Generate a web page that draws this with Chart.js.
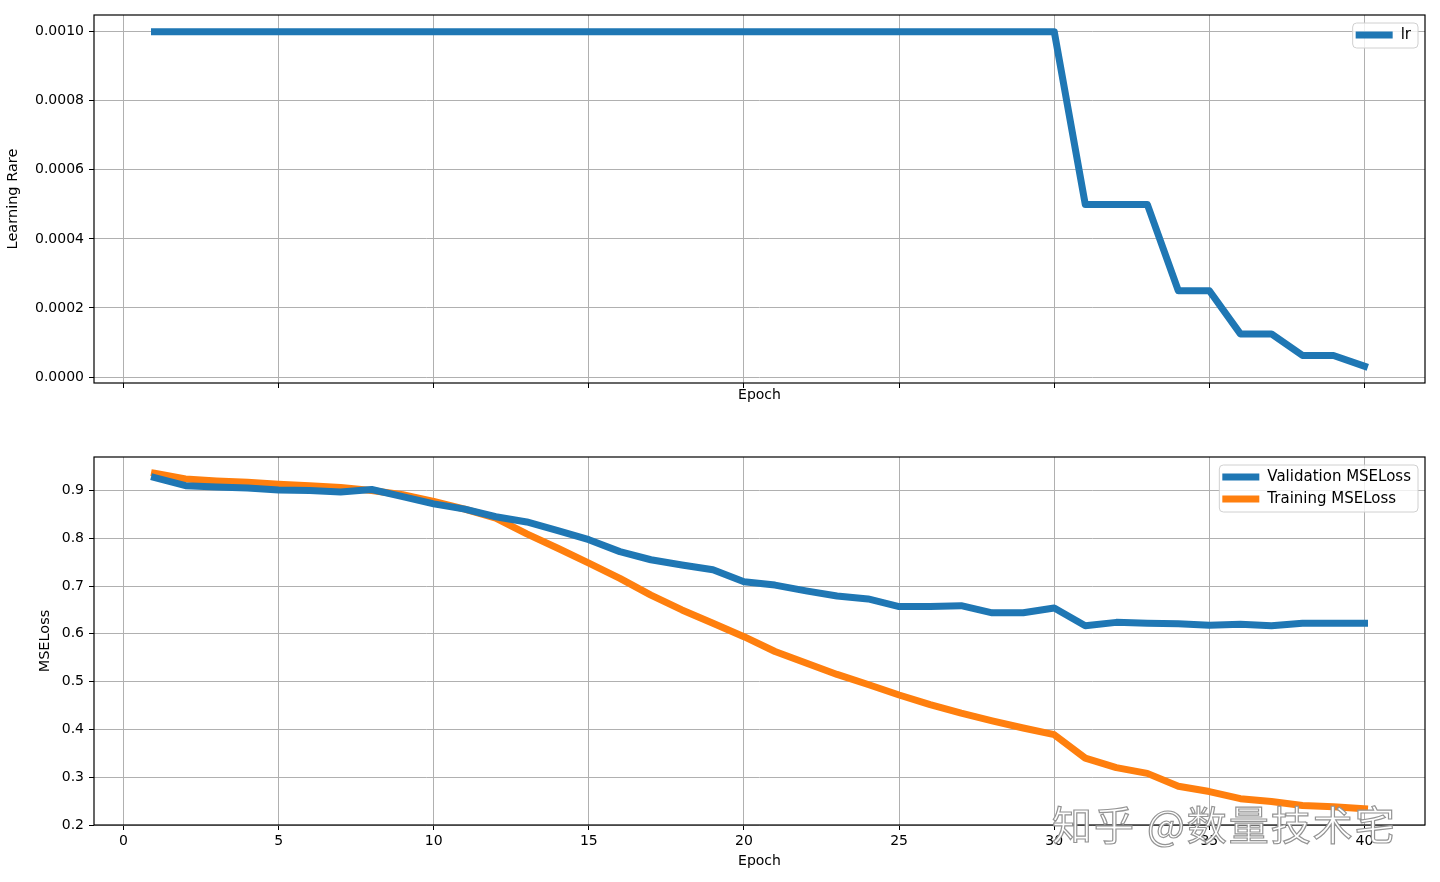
<!DOCTYPE html>
<html>
<head>
<meta charset="utf-8">
<title>Learning rate and MSELoss</title>
<script src="https://cdn.jsdelivr.net/npm/chart.js@4.4.1/dist/chart.umd.min.js"></script>
<style>
    html, body { margin: 0; padding: 0; background: #fff; }
    #wrap { position: relative; width: 1440px; height: 882px; overflow: hidden; }
    .box { position: absolute; left: 0; width: 1440px; }
    #lrBox { top: 0; height: 408px; }
    #lossBox { top: 430px; height: 452px; }
    #mark {
        position: absolute; left: 1052px; top: 794px;
        font-family: "Noto Sans CJK SC", sans-serif; font-size: 40px;
        color: #fff; -webkit-text-stroke: 1.2px #949494; letter-spacing: 2px;
        pointer-events: none;
    }
</style>
</head>
<body>
<div id="wrap">
    <div class="box" id="lrBox"><canvas id="lrChart"></canvas></div>
    <div class="box" id="lossBox"><canvas id="lossChart"></canvas></div>
    <div id="mark">知乎 @数量技术宅</div>
</div>
<script>
// Data
const epochs = [1, 2, 3, 4, 5, 6, 7, 8, 9, 10, 11, 12, 13, 14, 15, 16, 17, 18, 19, 20,
                21, 22, 23, 24, 25, 26, 27, 28, 29, 30, 31, 32, 33, 34, 35, 36, 37, 38, 39, 40];

const lrValues = [0.001, 0.001, 0.001, 0.001, 0.001, 0.001, 0.001, 0.001, 0.001, 0.001,
                  0.001, 0.001, 0.001, 0.001, 0.001, 0.001, 0.001, 0.001, 0.001, 0.001,
                  0.001, 0.001, 0.001, 0.001, 0.001, 0.001, 0.001, 0.001, 0.001, 0.001,
                  0.0005, 0.0005, 0.0005, 0.00025, 0.00025, 0.000125, 0.000125, 0.0000625, 0.0000625, 0.00003125];

const valLoss = [0.927, 0.910, 0.907, 0.905, 0.901, 0.900, 0.897, 0.902, 0.887, 0.872,
                 0.861, 0.845, 0.834, 0.816, 0.797, 0.772, 0.755, 0.744, 0.734, 0.709,
                 0.702, 0.690, 0.679, 0.673, 0.657, 0.657, 0.659, 0.644, 0.644, 0.654,
                 0.617, 0.624, 0.622, 0.621, 0.618, 0.620, 0.617, 0.622, 0.622, 0.622];

const trainLoss = [0.936, 0.924, 0.920, 0.917, 0.913, 0.910, 0.906, 0.900, 0.891, 0.877,
                   0.861, 0.842, 0.809, 0.779, 0.748, 0.716, 0.681, 0.650, 0.622, 0.594,
                   0.563, 0.539, 0.515, 0.494, 0.472, 0.452, 0.434, 0.418, 0.403, 0.389,
                   0.340, 0.320, 0.308, 0.281, 0.270, 0.255, 0.249, 0.241, 0.238, 0.234];

const xTicks = [0, 5, 10, 15, 20, 25, 30, 35, 40];
const lrTicks = [0, 0.0002, 0.0004, 0.0006, 0.0008, 0.0010];
const lossTicks = [0.2, 0.3, 0.4, 0.5, 0.6, 0.7, 0.8, 0.9];

const BLUE = '#1f77b4';
const ORANGE = '#ff7f0e';
const FONT = '"DejaVu Sans", sans-serif';

Chart.defaults.font.family = FONT;
Chart.defaults.font.size = 14;
Chart.defaults.color = '#000';

function points(values) {
    return epochs.map((e, i) => ({ x: e, y: values[i] }));
}

function setTicks(list) {
    return function(axis) {
        axis.ticks = list.map(v => ({ value: v }));
    };
}

// Frame on all four sides, like matplotlib spines
const framePlugin = {
    id: 'frame',
    afterDraw(chart) {
        const { ctx, chartArea: a } = chart;
        ctx.save();
        ctx.strokeStyle = '#000';
        ctx.lineWidth = 1.2;
        ctx.strokeRect(a.left, a.top, a.right - a.left, a.bottom - a.top);
        ctx.restore();
    }
};

// Legend box in the upper right corner of the plot area
const boxLegendPlugin = {
    id: 'boxLegend',
    afterDraw(chart) {
        const { ctx, chartArea: a } = chart;
        const sets = chart.data.datasets;
        ctx.save();
        ctx.font = '15px ' + FONT;
        const textW = Math.max(...sets.map(d => ctx.measureText(d.label).width));
        const handle = 37, rowH = 22;
        const w = 3 + handle + 8 + textW + 7;
        const h = 12 + rowH * (sets.length - 1) + 13;
        const x = a.right - 7 - w;
        const y = a.top + 8;
        ctx.fillStyle = 'rgba(255,255,255,0.8)';
        ctx.strokeStyle = '#d0d0d0';
        ctx.lineWidth = 1;
        ctx.beginPath();
        ctx.roundRect(x, y, w, h, 4);
        ctx.fill();
        ctx.stroke();
        sets.forEach((d, i) => {
            const cy = y + 12 + i * rowH;
            ctx.strokeStyle = d.borderColor;
            ctx.lineWidth = 7;
            ctx.lineCap = 'butt';
            ctx.beginPath();
            ctx.moveTo(x + 3, cy);
            ctx.lineTo(x + 3 + handle, cy);
            ctx.stroke();
            ctx.fillStyle = '#000';
            ctx.textBaseline = 'middle';
            ctx.fillText(d.label, x + 3 + handle + 8, cy);
        });
        ctx.restore();
    }
};

function lineSet(label, values, color) {
    return {
        label: label,
        data: points(values),
        borderColor: color,
        backgroundColor: color,
        borderWidth: 7,
        borderCapStyle: 'square',
        borderJoinStyle: 'round',
        pointRadius: 0,
        tension: 0,
        fill: false
    };
}

function xScale(showLabels, height) {
    return {
        type: 'linear',
        min: -0.95,
        max: 41.95,
        afterBuildTicks: setTicks(xTicks),
        afterFit: function(axis) { axis.height = height; },
        ticks: { display: showLabels, padding: 3, callback: v => String(v) },
        grid: { color: '#b0b0b0', lineWidth: 1, tickColor: '#000', tickLength: 5 },
        border: { display: false },
        title: { display: true, text: 'Epoch', padding: { top: 2, bottom: 4 } }
    };
}

function yScale(min, max, list, digits, title, width) {
    return {
        min: min,
        max: max,
        afterBuildTicks: setTicks(list),
        afterFit: function(axis) { axis.width = width; },
        ticks: { padding: 5, callback: v => v.toFixed(digits) },
        grid: { color: '#b0b0b0', lineWidth: 1, tickColor: '#000', tickLength: 5 },
        border: { display: false },
        title: { display: true, text: title, font: { size: 14.5 }, padding: { top: 5, bottom: 4 } }
    };
}

const commonOptions = {
    responsive: true,
    maintainAspectRatio: false,
    animation: false,
    events: [],
    plugins: { legend: { display: false }, tooltip: { enabled: false } }
};

new Chart(document.getElementById('lrChart'), {
    type: 'line',
    data: { datasets: [lineSet('lr', lrValues, BLUE)] },
    options: Object.assign({}, commonOptions, {
        layout: { padding: { left: 0, right: 15, top: 15, bottom: 0 } },
        scales: {
            x: xScale(false, 25),
            y: yScale(-0.0000172, 0.0010484, lrTicks, 4, 'Learning Rare', 94)
        }
    }),
    plugins: [framePlugin, boxLegendPlugin]
});

new Chart(document.getElementById('lossChart'), {
    type: 'line',
    data: {
        datasets: [
            lineSet('Validation MSELoss', valLoss, BLUE),
            lineSet('Training MSELoss', trainLoss, ORANGE)
        ]
    },
    options: Object.assign({}, commonOptions, {
        layout: { padding: { left: 32, right: 15, top: 27, bottom: 8 } },
        scales: {
            x: xScale(true, 49),
            y: yScale(0.2, 0.97, lossTicks, 1, 'MSELoss', 62)
        }
    }),
    plugins: [framePlugin, boxLegendPlugin]
});
</script>
</body>
</html>
